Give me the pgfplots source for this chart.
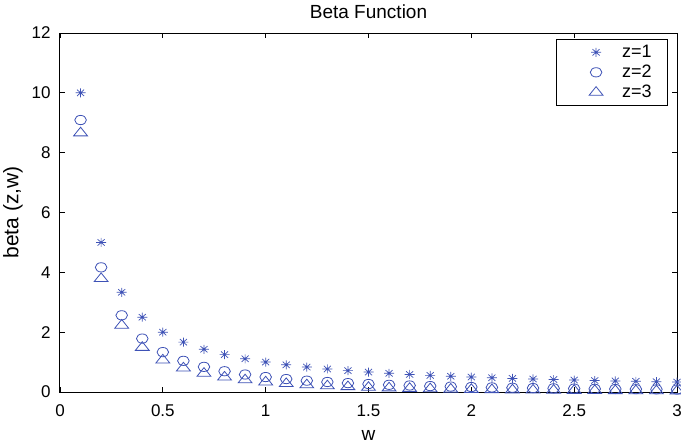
\documentclass[border=0pt]{standalone}
\usepackage{pgfplots}
\pgfplotsset{compat=1.18}
\usepackage{pgfplotstable}
\usepackage{fontspec}
\setmainfont{Liberation Sans}
\definecolor{mk}{RGB}{62,82,182}
\pgfdeclareplotmark{mstar}{%
  \pgfpathmoveto{\pgfqpoint{-\pgfplotmarksize}{0pt}}\pgfpathlineto{\pgfqpoint{\pgfplotmarksize}{0pt}}%
  \pgfpathmoveto{\pgfqpoint{0pt}{-\pgfplotmarksize}}\pgfpathlineto{\pgfqpoint{0pt}{\pgfplotmarksize}}%
  \pgfpathmoveto{\pgfqpoint{-0.707\pgfplotmarksize}{-0.707\pgfplotmarksize}}\pgfpathlineto{\pgfqpoint{0.707\pgfplotmarksize}{0.707\pgfplotmarksize}}%
  \pgfpathmoveto{\pgfqpoint{-0.707\pgfplotmarksize}{0.707\pgfplotmarksize}}\pgfpathlineto{\pgfqpoint{0.707\pgfplotmarksize}{-0.707\pgfplotmarksize}}%
  \pgfusepathqstroke}
\pgfplotstableread{
w    z1      z2      z3
0.1  10.0000 9.0909  8.6580
0.2  5.0000  4.1667  3.7879
0.3  3.3333  2.5641  2.2297
0.4  2.5000  1.7857  1.4881
0.5  2.0000  1.3333  1.0667
0.6  1.6667  1.0417  0.8013
0.7  1.4286  0.8403  0.6225
0.8  1.2500  0.6944  0.4960
0.9  1.1111  0.5848  0.4033
1.0  1.0000  0.5000  0.3333
1.1  0.9091  0.4329  0.2793
1.2  0.8333  0.3788  0.2367
1.3  0.7692  0.3344  0.2027
1.4  0.7143  0.2976  0.1751
1.5  0.6667  0.2667  0.1524
1.6  0.6250  0.2404  0.1335
1.7  0.5882  0.2179  0.1178
1.8  0.5556  0.1984  0.1044
1.9  0.5263  0.1815  0.0931
2.0  0.5000  0.1667  0.0833
2.1  0.4762  0.1536  0.0749
2.2  0.4545  0.1420  0.0676
2.3  0.4348  0.1318  0.0613
2.4  0.4167  0.1225  0.0557
2.5  0.4000  0.1143  0.0508
2.6  0.3846  0.1068  0.0465
2.7  0.3704  0.1001  0.0426
2.8  0.3571  0.0940  0.0392
2.9  0.3448  0.0884  0.0361
3.0  0.3333  0.0833  0.0333
}\betatab
\begin{document}
\begin{tikzpicture}
\begin{axis}[
  scale only axis,
  width=617pt, height=359pt,
  xmin=0, xmax=3, ymin=0, ymax=12,
  xtick={0,0.5,...,3}, ytick={0,2,...,12},
  xticklabels={0,0.5,1,1.5,2,2.5,3},
  tick align=inside, major tick length=5pt,
  tick style={black, line width=0.8pt},
  axis line style={black, line width=1pt},
  ticklabel style={font=\fontsize{17}{19}\selectfont},
  /pgf/number format/assume math mode=true,
  xticklabel style={yshift=-9pt},
  yticklabel style={xshift=-6pt},
  every axis title shift=0pt,
  title={Beta Function},
  title style={font=\fontsize{19}{21}\selectfont, at={(axis description cs:0.5,1.039)}, anchor=base},
  xlabel={w}, ylabel={beta (z,w)},
  xlabel style={font=\fontsize{19}{21}\selectfont, at={(axis description cs:0.5,-0.12)}, anchor=center},
  ylabel style={font=\fontsize{21}{23}\selectfont, at={(axis description cs:-0.0762,0.5)}, anchor=center},
  clip=false,
  legend style={at={(axis description cs:0.9854,0.9833)}, anchor=north east, draw=black, line width=0.8pt,
    font=\fontsize{18}{20}\selectfont, row sep=6pt, inner xsep=16pt, inner ysep=6pt,
    nodes={inner sep=0pt}},
  legend cell align=left,
  legend image code/.code={\path[draw=none,fill=none] (0pt,-5pt) rectangle (50pt,5pt); \draw[only marks] plot coordinates {(24pt,0pt)};},
]
\addplot[only marks, mark=mstar, mark size=5pt, color=mk, mark options={line width=0.7pt, yscale=0.9}] table[x=w,y=z1]{\betatab};
\addlegendentry{z=1}
\addplot[only marks, mark=o, mark size=5.8pt, color=mk, mark options={line width=0.8pt, yscale=0.8}] table[x=w,y=z2]{\betatab};
\addlegendentry{z=2}
\addplot[only marks, mark=triangle, mark size=8pt, color=mk, mark options={line width=0.8pt, yscale=0.72}] table[x=w,y=z3]{\betatab};
\addlegendentry{z=3}
\end{axis}
\pgfresetboundingbox
\path ([xshift=-60pt,yshift=-53pt]current axis.south west) rectangle ([xshift=4pt,yshift=33pt]current axis.north east);
\end{tikzpicture}
\end{document}
